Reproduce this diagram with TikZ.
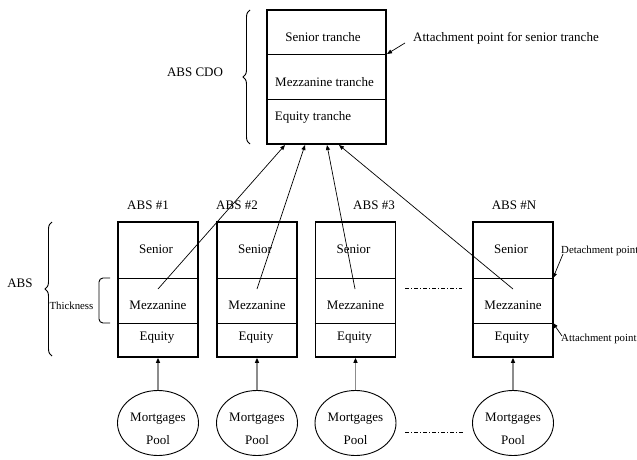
\documentclass[tikz,border=0pt]{standalone}
\usepackage{fontspec}
\setmainfont{Liberation Serif}
\usetikzlibrary{shapes.geometric,arrows.meta,decorations.pathreplacing}
\begin{document}
\begin{tikzpicture}[x=1pt,y=-1pt,
  txt/.style={inner sep=0pt,font=\fontsize{13}{15}\selectfont},
  smalltxt/.style={inner sep=0pt,font=\fontsize{10.8}{12}\selectfont},
  thickbox/.style={draw,line width=1.6pt,inner sep=0pt},
  divider/.style={line width=0.8pt},
  link/.style={line width=0.7pt,-{Triangle[length=5pt,width=4pt]}},
  feed/.style={line width=1.2pt,draw=black!45,-{Triangle[length=5pt,width=4pt,color=black]}},
  pool/.style={draw,ellipse,line width=0.9pt,minimum width=81pt,minimum height=65pt,inner sep=0pt},
  dotdash/.style={line width=0.7pt,dash pattern=on 4pt off 2pt on 1pt off 2pt},
  bracestyle/.style={line width=0.9pt,decorate,decoration={brace,amplitude=7pt}}
]
\useasboundingbox (0,0) rectangle (637,460);

% ---- CDO box
\node[thickbox,minimum width=119pt,minimum height=134pt] (cdo) at (326.5,77) {};
\draw[divider] (cdo.west |- 0,54) -- (cdo.east |- 0,54);
\draw[divider] (cdo.west |- 0,99) -- (cdo.east |- 0,99);
\node[txt] (cs) at (323,37) {Senior tranche};
\node[txt] (cm) at (324.5,82) {Mezzanine tranche};
\node[txt] (ce) at (313,117) {Equity tranche};
\node[txt] (cdolab) at (195,72) {ABS CDO};
\draw[bracestyle] (250,144) -- (250,10);
\node[txt,anchor=west] (attsen) at (413,38) {Attachment point for senior tranche};
\coordinate (attsenA) at (405,43);
\coordinate (attsenB) at (387,54);
\draw[link] (attsenA) -- (attsenB);

% ---- ABS boxes
\foreach \i/\x/\lx/\lab in {1/158/148/1, 2/257/237/2, 3/355.5/374/3, 4/513/514/N}{
  \node[thickbox,minimum width=80pt,minimum height=135pt] (b\i) at (\x,289.5) {};
  \draw[divider] (b\i.west |- 0,278) -- (b\i.east |- 0,278);
  \draw[divider] (b\i.west |- 0,323) -- (b\i.east |- 0,323);
  \node[txt] (s\i) at (\x-2,249) {Senior};
  \node[txt] (m\i) at (\x,305) {Mezzanine};
  \node[txt] (q\i) at (\x-1,338) {Equity};
  \node[txt] (l\i) at (\lx,205) {ABS \#\lab};
  \node[pool] (e\i) at (\x,423) {};
  \node[txt,align=center] (et\i) at ([yshift=-5.5pt]e\i.center) {Mortgages\\[8pt]Pool};
  \draw[feed] (e\i.north) -- (b\i.south);
}

% ---- links from mezzanine tranches to CDO
\coordinate (m1p) at (158,289);
\coordinate (m2p) at (257,289);
\coordinate (m3p) at (355,289);
\coordinate (m4p) at (513,289);
\coordinate (t1) at (285,145);
\coordinate (t2) at (305,145);
\coordinate (t3) at (327,145);
\coordinate (t4) at (339,145);
\draw[link] (m1p) -- (t1);
\draw[link] (m2p) -- (t2);
\draw[link] (m3p) -- (t3);
\draw[link] (m4p) -- (t4);

% ---- dash-dot separators
\coordinate (d1a) at (405,288);
\coordinate (d1b) at (462,288);
\coordinate (d2a) at (405,432);
\coordinate (d2b) at (463,432);
\draw[dotdash] (d1a) -- (d1b);
\draw[dotdash] (d2a) -- (d2b);

% ---- ABS brace and thickness bracket
\node[txt] (abslab) at (20,283) {ABS};
\draw[bracestyle] (52,356) -- (52,222);
\coordinate (k1) at (110,278);
\coordinate (k2) at (110,323);
\draw[line width=0.9pt,rounded corners=4pt] (k1) -- (99,278) -- (99,323) -- (k2);
\node[smalltxt] (thick) at (71.5,306) {Thickness};

% ---- detachment / attachment labels
\node[smalltxt,anchor=west] (det) at (561,251) {Detachment point};
\node[smalltxt,anchor=west] (att) at (561,339) {Attachment point};
\coordinate (detA) at (563,254);
\coordinate (detB) at (553,278);
\coordinate (attA) at (562,336);
\coordinate (attB) at (553,323);
\draw[link] (detA) -- (detB);
\draw[link] (attA) -- (attB);
\end{tikzpicture}
\end{document}
